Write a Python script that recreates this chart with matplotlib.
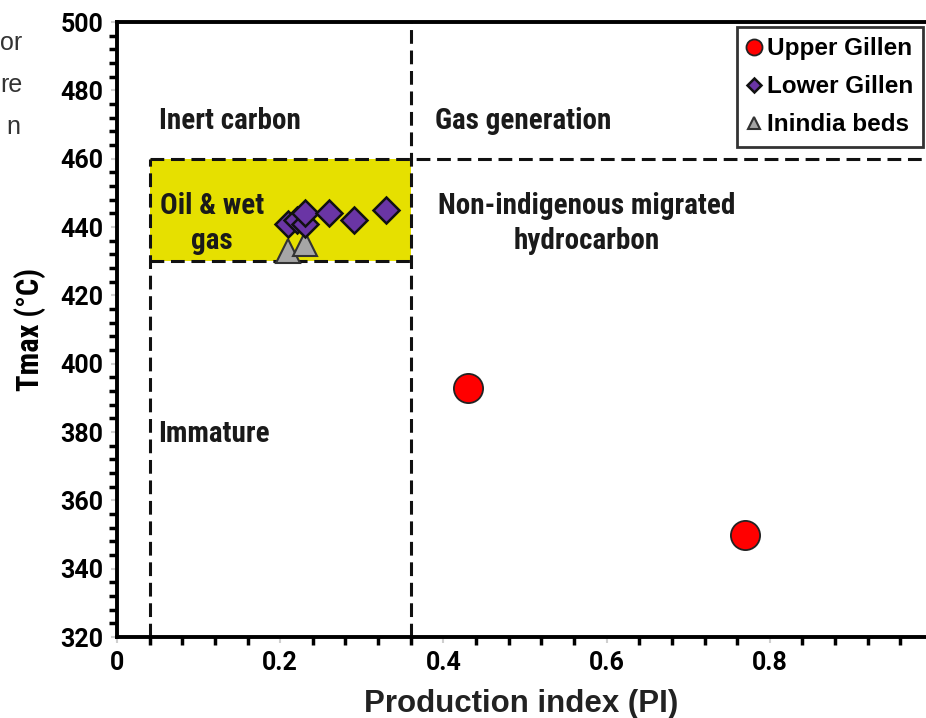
import matplotlib
matplotlib.use("Agg")
import matplotlib.pyplot as plt
from matplotlib.patches import Rectangle
from matplotlib.ticker import MultipleLocator

# sample groups: production index (PI) vs Tmax
upper_pi = [0.43, 0.77]
upper_tmax = [393, 350]

lower_pi = [0.21, 0.22, 0.23, 0.23, 0.26, 0.29, 0.33]
lower_tmax = [441, 442, 441, 444, 444, 442, 445]

inindia_pi = [0.21, 0.23]
inindia_tmax = [433, 435]

series_names = ["Upper Gillen", "Lower Gillen", "Inindia beds"]

# zone boundaries
pi_low, pi_high = 0.04, 0.36
t_low, t_high = 430, 460

narrow = ["Liberation Sans Narrow", "DejaVu Sans Condensed", "Roboto Condensed",
          "Roboto", "DejaVu Sans"]
wide = ["Liberation Sans", "DejaVu Sans"]

fig = plt.figure(figsize=(9.26, 7.18), dpi=100)
ax = fig.add_axes([117 / 926, 81 / 718, 816 / 926, 615 / 718])
ax.set_xlim(0, 1)
ax.set_ylim(320, 500)

# oil window box
ax.add_patch(Rectangle((pi_low, t_low), pi_high - pi_low, t_high - t_low,
                       facecolor="#e6e000", edgecolor="none", zorder=1))
dash = dict(color="#111111", lw=2.2, ls=(0, (4.5, 2.2)), zorder=2)
ax.plot([pi_low, pi_low], [320, t_high], **dash)
ax.plot([pi_high, pi_high], [320, 500], **dash)
ax.plot([pi_low, 1], [t_high, t_high], **dash)
ax.plot([pi_low, pi_high], [t_low, t_low], **dash)

# points
ax.plot(upper_pi, upper_tmax, "o", ms=21, mfc="#ff0000", mec="#222222", mew=1.3,
        ls="none", label=series_names[0], zorder=4)
ax.plot(lower_pi, lower_tmax, "D", ms=13, mfc="#6a35a5", mec="#111111", mew=1.8,
        ls="none", label=series_names[1], zorder=4)
ax.plot(inindia_pi, inindia_tmax, "^", ms=17, mfc="#a6a6a6", mec="#333333", mew=1.5,
        ls="none", label=series_names[2], zorder=3)

# zone labels
lab = dict(fontsize=21, fontweight="bold", family=narrow, color="#1a1a1a", zorder=5)
ax.text(0.052, 471, "Inert carbon", ha="left", va="center", **lab)
ax.text(0.39, 471, "Gas generation", ha="left", va="center", **lab)
ax.text(0.116, 441, "Oil & wet\ngas", ha="center", va="center", linespacing=1.3, **lab)
ax.text(0.576, 441, "Non-indigenous migrated\nhydrocarbon", ha="center", va="center",
        linespacing=1.3, **lab)
ax.text(0.051, 379.5, "Immature", ha="left", va="center", **lab)

# axes styling
for side in ["left", "bottom", "top", "right"]:
    ax.spines[side].set_linewidth(2.8)
    ax.spines[side].set_color("black")
ax.xaxis.set_major_locator(MultipleLocator(0.2))
ax.xaxis.set_minor_locator(MultipleLocator(0.04))
ax.yaxis.set_major_locator(MultipleLocator(20))
ax.yaxis.set_minor_locator(MultipleLocator(4))
ax.tick_params(which="major", direction="out", length=4, width=1.5, color="#cfcfcf",
               pad=6, labelsize=18)
ax.tick_params(which="minor", direction="out", length=6, width=2.5, color="black")
ax.set_xticks([0, 0.2, 0.4, 0.6, 0.8, 1.0])
ax.set_xticklabels(["0", "0.2", "0.4", "0.6", "0.8", "1"])
for t in ax.get_xticklabels() + ax.get_yticklabels():
    t.set_family(["Roboto", "DejaVu Sans"])
    t.set_fontweight("bold")

ax.set_ylabel("Tmax (°C)", fontsize=22, fontweight="bold", family=narrow, labelpad=10)
ax.set_xlabel("Production index (PI)", fontsize=22.5, fontweight="bold", family=wide,
              color="#222222")
ax.xaxis.set_label_coords((521 - 117) / 816, (689 - 637) / -615)

leg = ax.legend(loc="upper right", bbox_to_anchor=(923 / 926, 1 - 27 / 718),
                bbox_transform=fig.transFigure, borderaxespad=0, fancybox=False,
                frameon=True, edgecolor="black", handlelength=0.55, handletextpad=0.25,
                borderpad=0.42, labelspacing=0.62, markerscale=0.55,
                prop=dict(family=wide, weight="bold", size=17.5))
leg.get_frame().set_linewidth(2.0)
leg.set_zorder(6)

# surrounding page text
page = dict(fontsize=18, color="#333333", family=wide, ha="right", va="center")
fig.text(22 / 926, 1 - 43 / 718, "or", **page)
fig.text(22 / 926, 1 - 85 / 718, "re", **page)
fig.text(20 / 926, 1 - 127 / 718, "n", **page)

fig.savefig("out.png", dpi=100)
